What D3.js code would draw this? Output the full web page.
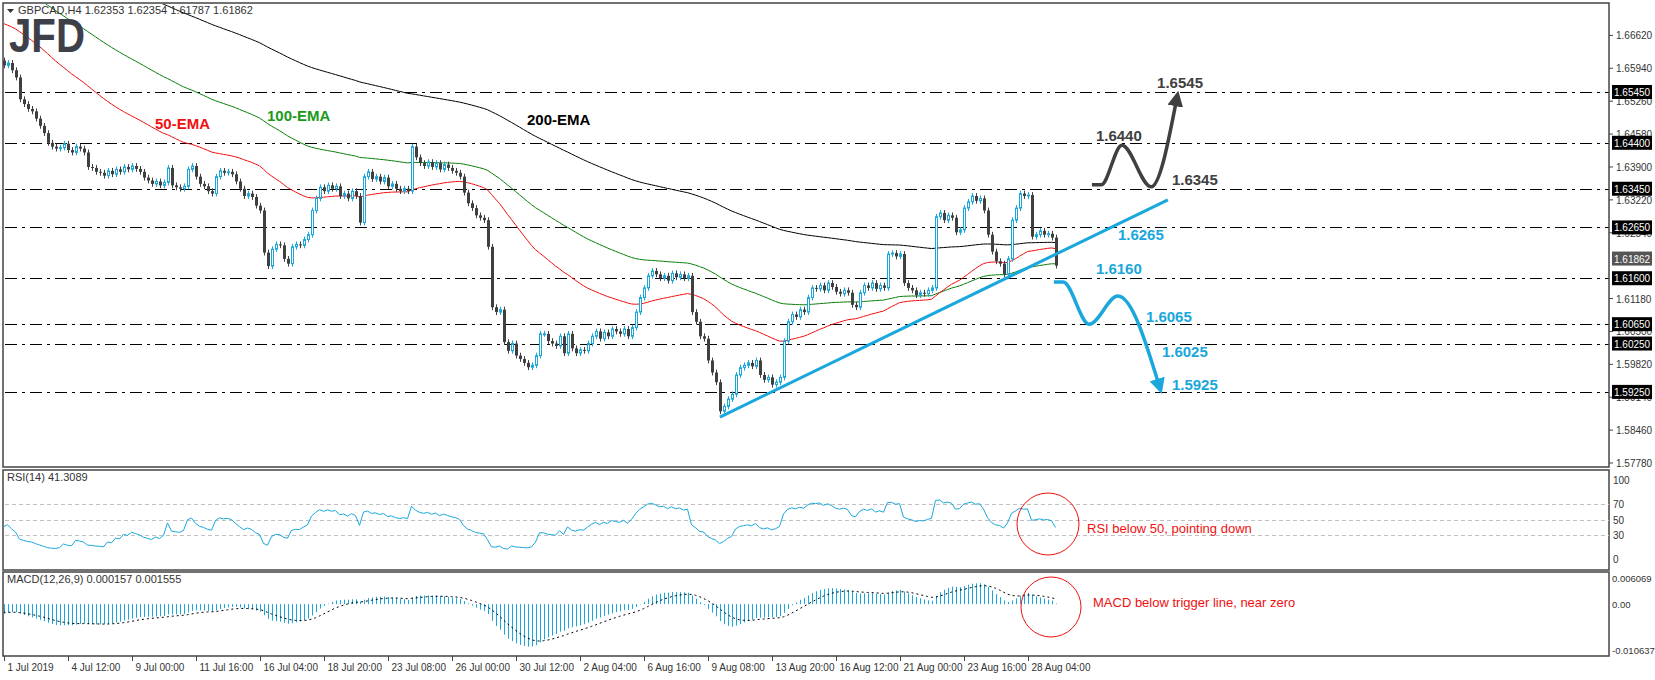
<!DOCTYPE html>
<html><head><meta charset="utf-8">
<script src="https://cdn.jsdelivr.net/npm/d3@7"></script>
<style>body{margin:0;background:#fff}svg{display:block}text{font-family:"Liberation Sans",Arial,sans-serif}</style>
</head><body><svg id="c" width="1655" height="680"></svg>
<script>
const closes=[1.6600,1.6605,1.6590,1.6575,1.6530,1.6520,1.6510,1.6505,1.6490,1.6475,1.6460,
1.6440,1.6432,1.6428,1.6430,1.6438,1.6425,1.6420,1.6432,1.6428,1.6420,
1.6390,1.6388,1.6380,1.6378,1.6372,1.6382,1.6375,
1.6385,1.6380,1.6390,1.6385,1.6392,1.6386,1.6380,
1.6368,1.6362,1.6355,1.6360,1.6352,1.6358,1.6388,
1.6352,1.6348,1.6345,1.6350,1.6385,1.6392,1.6370,1.6355,1.6350,
1.6340,1.6335,1.6370,1.6382,1.6378,1.6380,1.6375,1.6360,1.6345,1.6330,
1.6335,1.6328,1.6310,1.6300,1.6213,1.6185,1.6220,1.6230,1.6228,1.6200,1.6190,
1.6225,1.6230,1.6228,1.6240,1.6250,1.6300,1.6325,1.6348,1.6340,1.6352,
1.6345,1.6350,1.6330,1.6335,1.6325,1.6340,1.6330,1.6275,1.6370,1.6380,
1.6365,1.6370,1.6360,1.6368,1.6350,1.6355,1.6345,1.6340,1.6345,1.6340,1.6432,
1.6410,1.6398,1.6392,1.6400,1.6390,1.6398,1.6385,1.6395,1.6388,1.6382,1.6378,
1.6370,1.6337,1.6315,1.6305,1.6290,1.6285,1.6280,1.6225,1.6100,1.6090,1.6095,
1.6028,1.6010,1.6025,1.6000,1.5993,1.5985,1.5976,1.5980,1.6000,1.6045,
1.6045,1.6030,1.6025,1.6020,1.6040,1.6005,1.6045,1.6015,1.6005,1.6012,1.6010,1.6025,
1.6040,1.6050,1.6035,1.6048,1.6040,1.6055,1.6050,1.6045,1.6055,1.6040,1.6058,
1.6090,1.6120,1.6140,1.6165,1.6175,1.6168,1.6160,1.6165,1.6155,
1.6170,1.6162,1.6168,1.6160,1.6165,1.6090,1.6070,1.6040,1.6035,
1.5990,1.5965,1.5945,1.5885,1.5895,1.5910,1.5920,1.5960,1.5975,
1.5980,1.5985,1.5978,1.5990,1.5960,1.5950,1.5955,1.5940,1.5945,1.5955,1.6030,
1.6070,1.6085,1.6080,1.6095,1.6090,1.6120,1.6140,1.6138,1.6145,1.6135,1.6150,
1.6142,1.6132,1.6128,1.6135,1.6130,1.6105,1.6100,1.6130,1.6145,1.6140,1.6150,1.6138,
1.6145,1.6140,1.6210,1.6212,1.6205,1.6210,1.6150,1.6140,1.6135,1.6125,
1.6130,1.6128,1.6135,1.6140,1.6287,1.6295,1.6280,1.6290,1.6285,1.6255,1.6260,
1.6305,1.6318,1.6330,1.6320,1.6325,1.6300,1.6250,1.6215,1.6195,1.6190,1.6168,
1.6200,1.6280,1.6305,1.6335,1.6330,1.6332,1.6246,1.6250,1.6258,1.6250,1.6252,1.6244,1.6186];
const firstOpen=1.6610;
const emaSeeds={50:1.6690,100:1.6780,200:1.6880};
const macdSeeds={fast:1.6590,slow:1.6615,signal:-0.0018};
const xTickLabels=["1 Jul 2019","4 Jul 12:00","9 Jul 00:00","11 Jul 16:00","16 Jul 04:00","18 Jul 20:00","23 Jul 08:00","26 Jul 00:00","30 Jul 12:00","2 Aug 04:00","6 Aug 16:00","9 Aug 08:00","13 Aug 20:00","16 Aug 12:00","21 Aug 00:00","23 Aug 16:00","28 Aug 04:00"];
const priceTicks=[1.6662,1.6594,1.6526,1.6458,1.6390,1.6322,1.6254,1.6118,1.6050,1.5982,1.5914,1.5846,1.5778];
const levels=[1.6545,1.6440,1.6345,1.6265,1.6160,1.6065,1.6025,1.5925];
const lastPrice=1.61862;
const trendLine=[[179.1,1.5873],[291.1,1.6322]];
const bullPath=[[272.1,1.6353],[274.4,1.6353],[279.6,1.6435],[286.9,1.6349],[293.4,1.6535]];
const bearPath=[[262.6,1.6152],[264.9,1.6152],[271.4,1.6065],[278.6,1.6123],[289.1,1.5933]];
const bullLabels=[["1.6440",273.1,1.6444],["1.6545",288.4,1.6553],["1.6345",292.1,1.6353]];
const bearLabels=[["1.6265",278.6,1.6239],["1.6160",273.1,1.6169],["1.6065",285.6,1.6070],["1.6025",289.6,1.5997],["1.5925",292.1,1.5929]];
const rsiLevels=[70,50,30];
const rsiTicks=[100,70,50,30,0];

const svg=d3.select("#c");
const W0=3,W1=1609;
const MT=3,MB=467,RT=470,RB=570,DT=572,DB=656;
const x=d3.scaleLinear().domain([0,1]).range([3.5,7.5]);
const y=d3.scaleLinear().domain([1.5778,1.6662]).range([463,35.4]);
const yR=d3.scaleLinear().domain([0,100]).range([559,480]);
const yM=d3.scaleLinear().domain([-0.010637,0.006069]).range([650,578]);
const BLUE="#1aa7dc", BEAR="#404040", WICK=0.0006;
const FS=10;

const bars=closes.map((c,i)=>{const o=i?closes[i-1]:firstOpen;return{i,o,c,h:Math.max(o,c)+WICK,l:Math.min(o,c)-WICK};});
function ema(arr,n,seed){const a=2/(n+1);let e=seed;return arr.map(v=>(e=e+a*(v-e)));}
const e50=ema(closes,50,emaSeeds[50]),e100=ema(closes,100,emaSeeds[100]),e200=ema(closes,200,emaSeeds[200]);
const rsi=[];let ag=0.0004,al=0.0005;
bars.forEach(b=>{const d=b.c-b.o;ag=(ag*13+Math.max(d,0))/14;al=(al*13+Math.max(-d,0))/14;rsi.push(100-100/(1+ag/al));});
const ef=ema(closes,12,macdSeeds.fast),es=ema(closes,26,macdSeeds.slow);
const macd=ef.map((v,i)=>v-es[i]);
const sig=ema(macd,9,macdSeeds.signal);

const g=svg.append("g");
const defs=svg.append("defs");
defs.append("clipPath").attr("id","mc").append("rect").attr("x",W0+1).attr("y",MT+1).attr("width",W1-W0-2).attr("height",MB-MT-2);
defs.append("clipPath").attr("id","mm").append("rect").attr("x",W0+1).attr("y",DT+1).attr("width",W1-W0-2).attr("height",DB-DT-2);

levels.forEach(v=>g.append("line").attr("x1",W0+2).attr("x2",W1).attr("y1",Math.round(y(v))+.5).attr("y2",Math.round(y(v))+.5).attr("stroke","#000").attr("stroke-dasharray","12,5,3,5"));

priceTicks.forEach(v=>{g.append("line").attr("x1",W1).attr("x2",W1+4).attr("y1",y(v)).attr("y2",y(v)).attr("stroke","#444");
 g.append("text").attr("x",W1+7).attr("y",y(v)+4).attr("font-size",FS).attr("fill","#333").text(v.toFixed(5));});
levels.forEach(v=>{g.append("rect").attr("x",W1+3).attr("y",y(v)-7).attr("width",40).attr("height",14).attr("fill","#000");
 g.append("text").attr("x",W1+5).attr("y",y(v)+4).attr("font-size",FS).attr("fill","#fff").text(v.toFixed(5));});
g.append("rect").attr("x",W1+3).attr("y",y(lastPrice)-14).attr("width",40).attr("height",14).attr("fill","#555");
g.append("text").attr("x",W1+5).attr("y",y(lastPrice)-3).attr("font-size",FS).attr("fill","#fff").text(lastPrice.toFixed(5));

const ln=d3.line().x((d,i)=>x(i)).y(d=>y(d));
[[e200,"#000"],[e100,"#0a800a"],[e50,"#f01010"]].forEach(([d,c])=>g.append("path").attr("clip-path","url(#mc)").attr("d",ln(d)).attr("fill","none").attr("stroke",c).attr("stroke-width",1));

bars.forEach(b=>{const up=b.c>=b.o,col=up?BLUE:BEAR,cx=Math.round(x(b.i))+.5;
 const top=y(Math.max(b.o,b.c)),hgt=Math.max(1,Math.abs(y(b.o)-y(b.c)));
 g.append("line").attr("x1",cx).attr("x2",cx).attr("y1",y(b.h)).attr("y2",y(b.l)).attr("stroke",col);
 if(up) g.append("rect").attr("x",cx-1).attr("width",2).attr("y",top).attr("height",hgt).attr("fill","#fff").attr("stroke",col);
 else g.append("rect").attr("x",cx-1.5).attr("width",3).attr("y",top).attr("height",hgt).attr("fill",col);});

const lp=d3.line().x(d=>x(d[0])).y(d=>y(d[1]));
g.append("path").attr("d",lp(trendLine)).attr("stroke",BLUE).attr("stroke-width",3).attr("fill","none");
[["ab","#404040"],["ac",BLUE]].forEach(([id,c])=>defs.append("marker").attr("id",id).attr("viewBox","0 0 10 10").attr("refX",6).attr("refY",5).attr("markerWidth",4.5).attr("markerHeight",4.5).attr("orient","auto").append("path").attr("d","M0,0L10,5L0,10z").attr("fill",c));
const lc=d3.line().x(d=>x(d[0])).y(d=>y(d[1])).curve(d3.curveMonotoneX);
g.append("path").attr("d",lc(bullPath)).attr("stroke","#404040").attr("stroke-width",3.5).attr("fill","none").attr("marker-end","url(#ab)");
g.append("path").attr("d",lc(bearPath)).attr("stroke",BLUE).attr("stroke-width",3.5).attr("fill","none").attr("marker-end","url(#ac)");
bullLabels.forEach(([t,i,v])=>g.append("text").attr("x",x(i)).attr("y",y(v)).attr("font-size",15).attr("font-weight","bold").attr("fill","#404040").text(t));
bearLabels.forEach(([t,i,v])=>g.append("text").attr("x",x(i)).attr("y",y(v)).attr("font-size",15).attr("font-weight","bold").attr("fill",BLUE).text(t));
[["50-EMA",155,129,"#f01010"],["100-EMA",267,121,"#1a9a1a"],["200-EMA",527,125,"#000"]].forEach(([t,a,b,c])=>g.append("text").attr("x",a).attr("y",b).attr("font-size",15).attr("font-weight","bold").attr("fill",c).text(t));

g.append("text").attr("x",9).attr("y",52).attr("font-size",48).attr("font-weight","bold").attr("fill","#3d4048").attr("textLength",76).attr("lengthAdjust","spacingAndGlyphs").text("JFD");
g.append("path").attr("d","M7,9L14,9L10.5,13z").attr("fill","#333");
g.append("text").attr("x",18).attr("y",14).attr("font-size",11).attr("fill","#333").text("GBPCAD,H4  1.62353 1.62354 1.61787 1.61862");

[[MT,MB],[RT,RB],[DT,DB]].forEach(([t,b])=>g.append("rect").attr("x",W0).attr("y",t).attr("width",W1-W0).attr("height",b-t).attr("fill","none").attr("stroke","#444").attr("stroke-width",1.5));

rsiLevels.forEach(v=>g.append("line").attr("x1",W0+2).attr("x2",W1).attr("y1",Math.round(yR(v))+.5).attr("y2",Math.round(yR(v))+.5).attr("stroke","#c0c0c0").attr("stroke-dasharray","4,3"));
rsiTicks.forEach(v=>g.append("text").attr("x",W1+4).attr("y",yR(v)+4).attr("font-size",FS).attr("fill","#333").text(v));
g.append("path").attr("d",d3.line().x((d,i)=>x(i)).y(d=>yR(d))(rsi)).attr("stroke",BLUE).attr("fill","none").attr("stroke-width",1);
g.append("text").attr("x",7).attr("y",481).attr("font-size",11).attr("fill","#333").text("RSI(14) 41.3089");
g.append("circle").attr("cx",1048).attr("cy",524).attr("r",31).attr("fill","none").attr("stroke","#f01010");
g.append("text").attr("x",1087).attr("y",533).attr("font-size",13).attr("fill","#f01010").text("RSI below 50, pointing down");

macd.forEach((v,i)=>g.append("line").attr("clip-path","url(#mm)").attr("x1",Math.round(x(i))+.5).attr("x2",Math.round(x(i))+.5).attr("y1",yM(0)).attr("y2",yM(v)).attr("stroke",BLUE).attr("stroke-width",1));
g.append("path").attr("clip-path","url(#mm)").attr("d",d3.line().x((d,i)=>x(i)).y(d=>yM(d))(sig)).attr("stroke","#000").attr("fill","none").attr("stroke-dasharray","2,3");
[[0.006069,"0.006069"],[0,"0.00"],[-0.010637,"-0.010637"]].forEach(([v,t])=>g.append("text").attr("x",W1+3).attr("y",yM(v)+4).attr("font-size",9.5).attr("fill","#333").text(t));
g.append("text").attr("x",7).attr("y",583).attr("font-size",11).attr("fill","#333").text("MACD(12,26,9) 0.000157 0.001555");
g.append("circle").attr("cx",1051).attr("cy",607).attr("r",30).attr("fill","none").attr("stroke","#f01010");
g.append("text").attr("x",1093).attr("y",607).attr("font-size",13).attr("fill","#f01010").text("MACD below trigger line, near zero");

xTickLabels.forEach((t,k)=>{const xx=Math.round(x(k*16))+.5;
 g.append("line").attr("x1",xx).attr("x2",xx).attr("y1",DB).attr("y2",DB+5).attr("stroke","#444");
 g.append("text").attr("x",xx+3).attr("y",671).attr("font-size",FS).attr("fill","#333").text(t);});
</script></body></html>
